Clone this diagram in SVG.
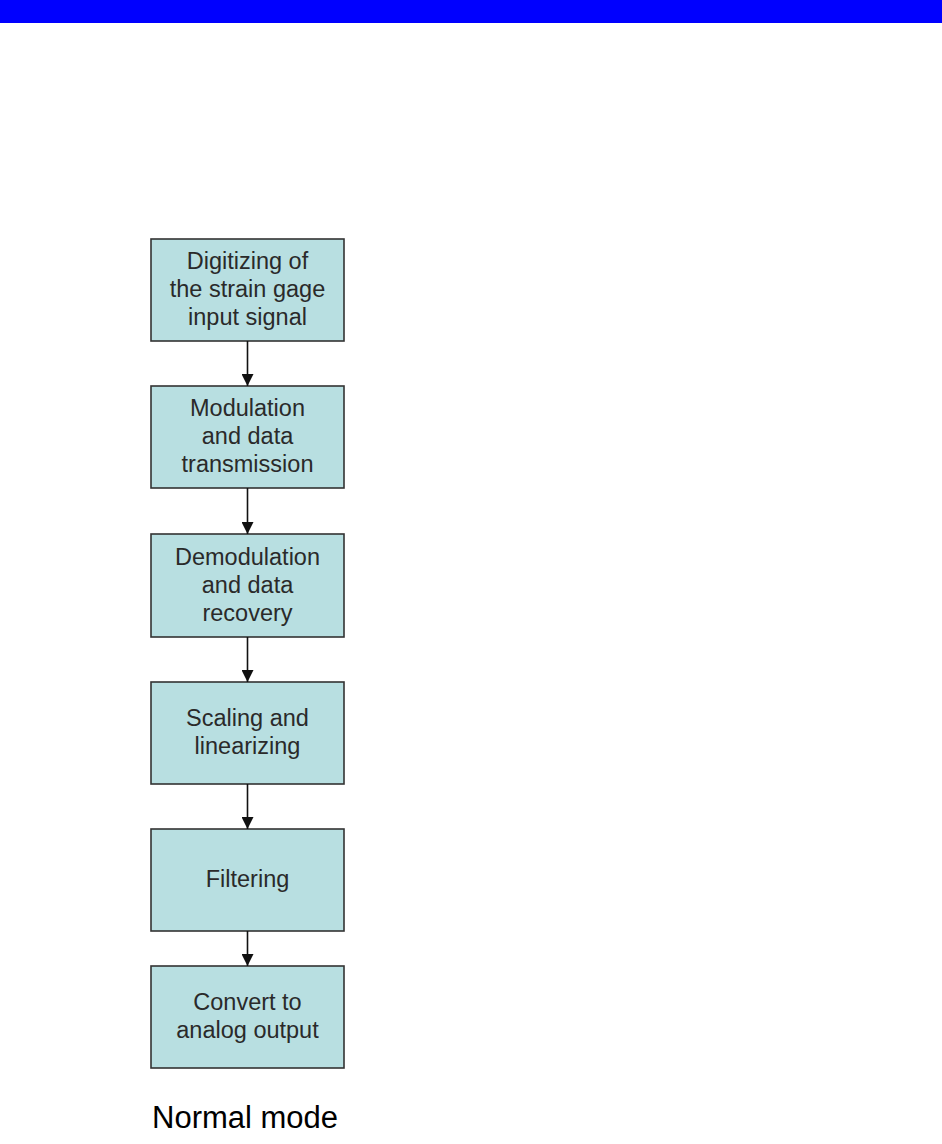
<svg xmlns="http://www.w3.org/2000/svg" width="942" height="1144" viewBox="0 0 942 1144">
<style>
.box{fill:#b8dfe1;stroke:#333;stroke-width:1.6}
.t{font-family:"Liberation Sans",Arial,sans-serif;font-size:23.5px;fill:#2a2a2a;text-anchor:middle}
.c{stroke:#111;stroke-width:1.6;fill:none}
</style>
<defs>
<marker id="ah" markerUnits="userSpaceOnUse" markerWidth="12" markerHeight="12" refX="10" refY="5" orient="auto" viewBox="0 0 10 10">
<path d="M0,0 L10,5 L0,10 z" fill="#111"/>
</marker>
</defs>
<rect x="0" y="0" width="942" height="23" fill="#0000ff"/>
<g id="n1"><rect class="box" x="151" y="239" width="193" height="102"/>
<text class="t" x="247.5" y="269">Digitizing of</text><text class="t" x="247.5" y="297">the strain gage</text><text class="t" x="247.5" y="325">input signal</text></g>
<g id="n2"><rect class="box" x="151" y="386" width="193" height="102"/>
<text class="t" x="247.5" y="416">Modulation</text><text class="t" x="247.5" y="444">and data</text><text class="t" x="247.5" y="472">transmission</text></g>
<g id="n3"><rect class="box" x="151" y="534" width="193" height="103"/>
<text class="t" x="247.5" y="565">Demodulation</text><text class="t" x="247.5" y="593">and data</text><text class="t" x="247.5" y="621">recovery</text></g>
<g id="n4"><rect class="box" x="151" y="682" width="193" height="102"/>
<text class="t" x="247.5" y="726">Scaling and</text><text class="t" x="247.5" y="754">linearizing</text></g>
<g id="n5"><rect class="box" x="151" y="829" width="193" height="102"/>
<text class="t" x="247.5" y="887">Filtering</text></g>
<g id="n6"><rect class="box" x="151" y="966" width="193" height="102"/>
<text class="t" x="247.5" y="1010">Convert to</text><text class="t" x="247.5" y="1038">analog output</text></g>
<g id="connectors">
<line class="c" x1="247.5" y1="341" x2="247.5" y2="386" marker-end="url(#ah)"/>
<line class="c" x1="247.5" y1="488" x2="247.5" y2="534" marker-end="url(#ah)"/>
<line class="c" x1="247.5" y1="637" x2="247.5" y2="682" marker-end="url(#ah)"/>
<line class="c" x1="247.5" y1="784" x2="247.5" y2="829" marker-end="url(#ah)"/>
<line class="c" x1="247.5" y1="931" x2="247.5" y2="966" marker-end="url(#ah)"/>
</g>
<text x="152" y="1128" font-family="Liberation Sans,Arial,sans-serif" font-size="31" fill="#000">Normal mode</text>
</svg>
